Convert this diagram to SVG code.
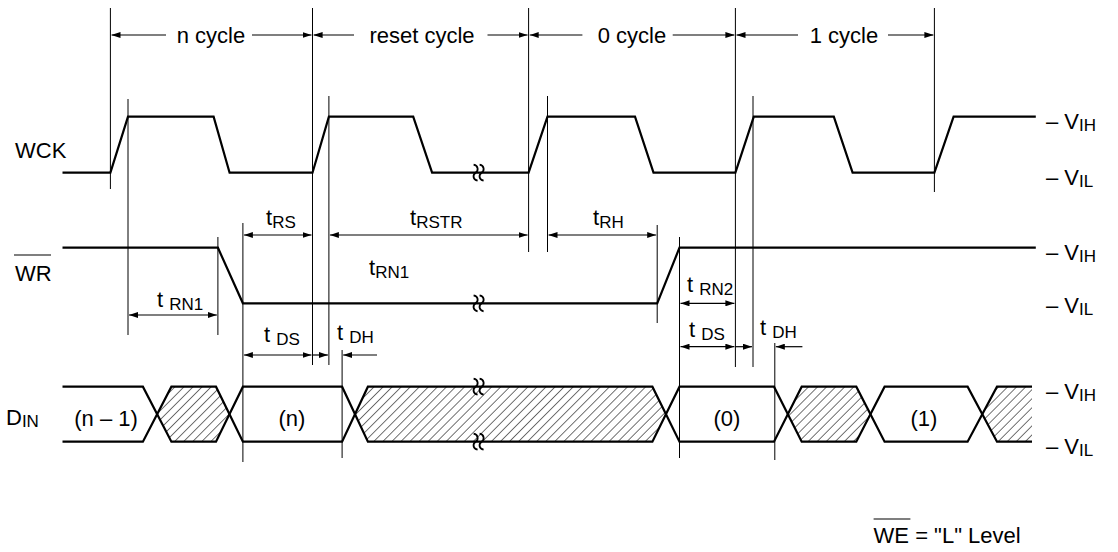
<svg xmlns="http://www.w3.org/2000/svg" width="1118" height="552" viewBox="0 0 1118 552">
<style>
text{font-family:"Liberation Sans",Arial,Helvetica,sans-serif;font-size:22px;fill:#000}
.sub{font-size:17px}
.wave{fill:none;stroke:#000;stroke-width:2.2;stroke-linejoin:miter}
.ref{stroke:#000;stroke-width:1;fill:none}
.dim{stroke:#000;stroke-width:1.2;fill:none}
.both{marker-start:url(#ah);marker-end:url(#ah)}
.end{marker-end:url(#ah)}
.brk{fill:none;stroke:#000;stroke-width:1.8}
.hatch{fill:url(#hp);stroke:none}
</style>
<defs>
<marker id="ah" viewBox="0 0 9 6" refX="9" refY="3" markerWidth="9" markerHeight="6" markerUnits="userSpaceOnUse" orient="auto-start-reverse"><path d="M0,0 L9,3 L0,6 z" fill="#000"/></marker>
<pattern id="hp" patternUnits="userSpaceOnUse" width="6.4" height="10" patternTransform="rotate(45)"><line x1="0" y1="0" x2="0" y2="10" stroke="#000" stroke-width="1.1"/></pattern>
<path id="bk" d="M-5,-8 C0,-7 0,-2 -3,0 C-6,2 -6,7 -1,8 M1,-8 C6,-7 6,-2 3,0 C0,2 0,7 5,8"/>
</defs>
<rect width="1118" height="552" fill="#fff"/>

<g id="reference-lines">
<line class="ref" x1="110.4" y1="8" x2="110.4" y2="189"/>
<line class="ref" x1="128" y1="99" x2="128" y2="335"/>
<line class="ref" x1="312.5" y1="8" x2="312.5" y2="365"/>
<line class="ref" x1="328.9" y1="96" x2="328.9" y2="365"/>
<line class="ref" x1="528.6" y1="8" x2="528.6" y2="252"/>
<line class="ref" x1="547.5" y1="96" x2="547.5" y2="252"/>
<line class="ref" x1="735.4" y1="8" x2="735.4" y2="367"/>
<line class="ref" x1="753" y1="96" x2="753" y2="367"/>
<line class="ref" x1="934.4" y1="8" x2="934.4" y2="192"/>
<line class="ref" x1="217.9" y1="237" x2="217.9" y2="335"/>
<line class="ref" x1="242.9" y1="223" x2="242.9" y2="462"/>
<line class="ref" x1="342.1" y1="350" x2="342.1" y2="458"/>
<line class="ref" x1="657.2" y1="225" x2="657.2" y2="323"/>
<line class="ref" x1="679.5" y1="237" x2="679.5" y2="458"/>
<line class="ref" x1="774.8" y1="343" x2="774.8" y2="460"/>
</g>

<g id="cycle-labels">
<line class="dim" x1="166" y1="35" x2="111.5" y2="35" marker-end="url(#ah)"/>
<text x="211" y="43" text-anchor="middle">n cycle</text>
<line class="dim" x1="252" y1="35" x2="311.5" y2="35" marker-end="url(#ah)"/>
<line class="dim" x1="354" y1="35" x2="313.6" y2="35" marker-end="url(#ah)"/>
<text x="422" y="43" text-anchor="middle">reset cycle</text>
<line class="dim" x1="487.5" y1="35" x2="527.6" y2="35" marker-end="url(#ah)"/>
<line class="dim" x1="582.4" y1="35" x2="529.7" y2="35" marker-end="url(#ah)"/>
<text x="632" y="43" text-anchor="middle">0 cycle</text>
<line class="dim" x1="672.7" y1="35" x2="734.4" y2="35" marker-end="url(#ah)"/>
<line class="dim" x1="798" y1="35" x2="736.5" y2="35" marker-end="url(#ah)"/>
<text x="844" y="43" text-anchor="middle">1 cycle</text>
<line class="dim" x1="888" y1="35" x2="933.4" y2="35" marker-end="url(#ah)"/>
</g>

<g id="wck">
<text x="15" y="158">WCK</text>
<path class="wave" d="M62.5,172.7 H110.4 L128,116.7 H213.6 L229.6,172.7 H312.5 L328.9,116.7 H413.2 L432.1,172.7 H528.6 L547.5,116.7 H635 L653.5,172.7 H735.4 L753.8,116.7 H833.8 L852.6,172.7 H934.4 L953.6,116.7 H1035.8"/>
<use href="#bk" class="brk" x="478.6" y="172.7"/>
<text x="1046" y="129">– V<tspan class="sub" dy="2">IH</tspan></text>
<text x="1046" y="185">– V<tspan class="sub" dy="2">IL</tspan></text>
</g>

<g id="wr">
<text x="15" y="281">WR</text>
<line x1="14" y1="255" x2="51" y2="255" stroke="#000" stroke-width="1.2"/>
<path class="wave" d="M62.5,247.7 H217.9 L242.9,303.3 H657.2 L679.5,247.7 H1035.8"/>
<use href="#bk" class="brk" x="478.6" y="303.3"/>
<text x="1046" y="260">– V<tspan class="sub" dy="2">IH</tspan></text>
<text x="1046" y="313">– V<tspan class="sub" dy="2">IL</tspan></text>
</g>

<g id="din">
<text x="6" y="425">D<tspan class="sub" dy="2">IN</tspan></text>
<polygon class="hatch" points="157.2,414 171.4,386.7 216,386.7 229.5,414 216,441.7 171.4,441.7"/>
<polygon class="hatch" points="355,414 367.9,386.7 652.4,386.7 666,414 652.4,441.7 367.9,441.7"/>
<polygon class="hatch" points="787.9,414 801.7,386.7 856.3,386.7 870.5,414 856.3,441.7 801.7,441.7"/>
<polygon class="hatch" points="982.3,414 997,386.7 1032,386.7 1032,441.7 997,441.7"/>
<path class="wave" d="M62.5,386.7 H142.9 L171.4,441.7 H216 L242.9,386.7 H342.1 L367.9,441.7 H652.4 L679.5,386.7 H774 L801.7,441.7 H856.3 L884.6,386.7 H967.6 L997,441.7 H1032"/>
<path class="wave" d="M62.5,441.7 H142.9 L171.4,386.7 H216 L242.9,441.7 H342.1 L367.9,386.7 H652.4 L679.5,441.7 H774 L801.7,386.7 H856.3 L884.6,441.7 H967.6 L997,386.7 H1032"/>
<use href="#bk" class="brk" x="478.6" y="386.7"/>
<use href="#bk" class="brk" x="478.6" y="441.7"/>
<text x="106" y="426" text-anchor="middle">(n – 1)</text>
<text x="292" y="426" text-anchor="middle">(n)</text>
<text x="727" y="426" text-anchor="middle">(0)</text>
<text x="924" y="426" text-anchor="middle">(1)</text>
<text x="1046" y="399">– V<tspan class="sub" dy="2">IH</tspan></text>
<text x="1046" y="454">– V<tspan class="sub" dy="2">IL</tspan></text>
</g>

<g id="timing">
<line class="dim both" x1="243.9" y1="235" x2="311.5" y2="235"/>
<text x="266" y="225">t<tspan class="sub" dy="3">RS</tspan></text>
<line class="dim both" x1="329.9" y1="235" x2="527.6" y2="235"/>
<text x="410" y="225">t<tspan class="sub" dy="3">RSTR</tspan></text>
<line class="dim both" x1="548.5" y1="235" x2="656.2" y2="235"/>
<text x="593" y="225">t<tspan class="sub" dy="3">RH</tspan></text>
<text x="369" y="275">t<tspan class="sub" dy="3">RN1</tspan></text>
<line class="dim both" x1="129" y1="315" x2="216.9" y2="315"/>
<text x="157" y="307">t <tspan class="sub" dy="3">RN1</tspan></text>
<line class="dim both" x1="243.9" y1="355" x2="311.5" y2="355"/>
<line class="dim end" x1="312.5" y1="355" x2="327.9" y2="355"/>
<line class="dim end" x1="377" y1="355" x2="343.1" y2="355"/>
<text x="264" y="342">t <tspan class="sub" dy="3">DS</tspan></text>
<text x="337" y="340">t <tspan class="sub" dy="3">DH</tspan></text>
<line class="dim both" x1="680.5" y1="303.3" x2="734.4" y2="303.3"/>
<text x="687" y="292">t <tspan class="sub" dy="3">RN2</tspan></text>
<line class="dim both" x1="680.5" y1="346.7" x2="734.4" y2="346.7"/>
<line class="dim end" x1="735.4" y1="346.7" x2="752" y2="346.7"/>
<line class="dim end" x1="802.4" y1="346.7" x2="775.8" y2="346.7"/>
<text x="689" y="337">t <tspan class="sub" dy="3">DS</tspan></text>
<text x="760" y="335">t <tspan class="sub" dy="3">DH</tspan></text>
</g>

<g id="note">
<text x="873.6" y="543">WE = "L" Level</text>
<line x1="873.6" y1="519" x2="910.4" y2="519" stroke="#000" stroke-width="1.2"/>
</g>
</svg>
